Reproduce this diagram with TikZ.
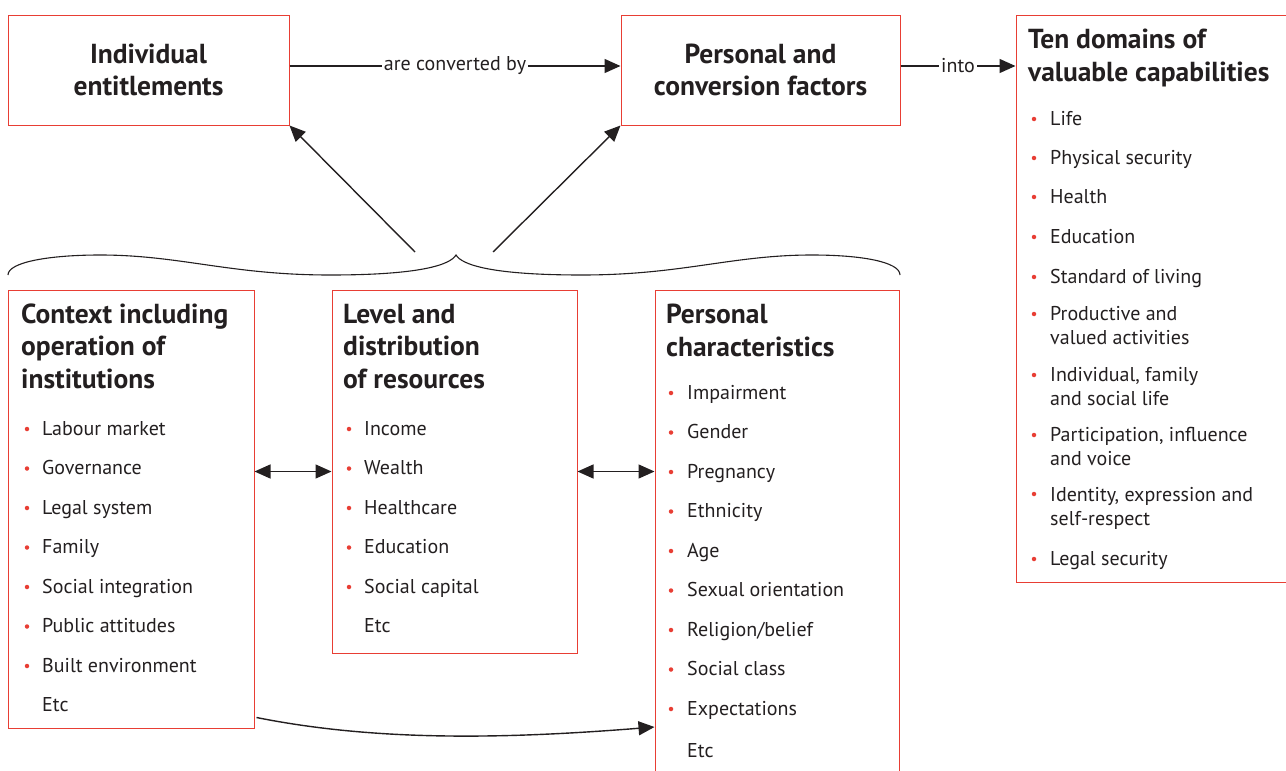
\documentclass[tikz,border=0pt]{standalone}
\usepackage{fontspec}
\setmainfont{PT Sans}
\usetikzlibrary{arrows.meta,calc}
\definecolor{boxred}{RGB}{232,62,52}
\definecolor{txt}{RGB}{35,31,32}
\begin{document}
\begin{tikzpicture}[x=1pt,y=-1pt,
  box/.style={draw=boxred, line width=1pt, inner sep=0pt},
  toptitle/.style={font=\fontsize{27.5}{32}\selectfont\bfseries, text=txt, align=center},
  title/.style={font=\fontsize{27.5}{32.5}\selectfont\bfseries, text=txt, align=left, anchor=base west, inner sep=0pt},
  item/.style={font=\fontsize{20}{24}\selectfont, text=txt, align=left, anchor=base west, inner sep=0pt},
  bul/.style={circle, fill=boxred, inner sep=0pt, minimum size=4.5pt},
  conn/.style={line width=1.4pt, draw=txt},
  tip/.style={-{Triangle[length=16pt,width=14pt]}},
  dtip/.style={{Triangle[length=16pt,width=14pt]}-{Triangle[length=16pt,width=14pt]}},
  lab/.style={font=\fontsize{20}{24}\selectfont, text=txt, fill=white, inner sep=2pt}
]
\useasboundingbox (0,0) rectangle (1286,771);

% top boxes
\node[box, minimum width=281pt, minimum height=110pt, toptitle] (ent) at (148.5,70) {Individual\\entitlements};
\node[box, minimum width=279pt, minimum height=110pt, toptitle] (conv) at (760.5,70) {Personal and\\conversion factors};
\node[box, minimum width=290pt, minimum height=567pt] (dom) at (1161,298.5) {};

% lower boxes
\node[box, minimum width=246pt, minimum height=438pt] (ctx) at (131,509) {};
\node[box, minimum width=245pt, minimum height=363pt] (lev) at (454.5,471.5) {};
\node[box, minimum width=244pt, minimum height=500pt] (pc) at (777,540) {};

% titles (anchor = baseline of last line)
\node[title] (domt) at (1028,81) {Ten domains of\\valuable capabilities};
\node[title] (ctxt) at (21,388) {Context including\\operation of\\institutions};
\node[title] (levt) at (343,388) {Level and\\distribution\\of resources};
\node[title] (pct) at (666,356) {Personal\\characteristics};

% context items
\foreach \t [count=\i from 0] in {Labour market,Governance,Legal system,Family,Social integration,Public attitudes,Built environment}{
  \node[item] (ci\i) at (42,435+39.5*\i) {\t};
  \node[bul] (cb\i) at (27,429+39.5*\i) {};
}
\node[item] (cetc) at (42,711.5) {Etc};

% level items
\foreach \t [count=\i from 0] in {Income,Wealth,Healthcare,Education,Social capital}{
  \node[item] (li\i) at (364,435+39.5*\i) {\t};
  \node[bul] (lb\i) at (349,429+39.5*\i) {};
}
\node[item] (letc) at (364,632.5) {Etc};

% personal characteristics items
\foreach \t [count=\i from 0] in {Impairment,Gender,Pregnancy,Ethnicity,Age,Sexual orientation,Religion/belief,Social class,Expectations}{
  \node[item] (pi\i) at (687,399+39.5*\i) {\t};
  \node[bul] (pb\i) at (671,393+39.5*\i) {};
}
\node[item] (petc) at (687,757) {Etc};

% domains items: text/last-line baseline/bullet y
\foreach \t/\yy/\by [count=\i from 0] in {Life/125/119,Physical security/164/158,Health/203/197,Education/243/237,Standard of living/283/277,{Productive and\\valued activities}/344/314,{Individual, family\\and social life}/405/375,{Participation, influence\\and voice}/465/435,{Identity, expression and\\self-respect}/525/494,Legal security/565/559}{
  \node[item] (di\i) at (1050,\yy) {\t};
  \node[bul] (db\i) at (1034,\by) {};
}

% top connectors
\draw[conn,tip] ([yshift=4pt]ent.east) -- node[lab] (l1) {are converted by} ([yshift=4pt]conv.west);
\draw[conn,tip] ([yshift=4pt]conv.east) -- node[lab] (l2) {into} ([yshift=4pt]conv.east -| dom.west);

% brace
\draw[line width=1.1pt, draw=txt] (8,275) .. controls (8,262) and (50,255) .. (100,255)
  .. controls (180,255) and (230,275) .. (330,275)
  .. controls (420,275) and (450,265) .. (456,255)
  .. controls (462,265) and (492,275) .. (582,275)
  .. controls (682,275) and (732,255) .. (812,255)
  .. controls (862,255) and (900,262) .. (900,275);
\coordinate (b1) at (415,252);
\coordinate (b2) at (493,252);
\draw[conn,tip] (b1) -- (ent.south east);
\draw[conn,tip] (b2) -- (conv.south west);

% double arrows
\draw[conn,dtip] (ctx.east |- lev.center) -- (lev.west);
\draw[conn,dtip] (lev.east) -- (lev.east -| pc.west);

% curved arrow
\coordinate (cs) at ([xshift=2pt,yshift=11pt]ctx.south east);
\draw[conn,tip] (cs) .. controls +(120,24) and +(-150,12) .. (pc.west |- 0,727);
\end{tikzpicture}
\end{document}
